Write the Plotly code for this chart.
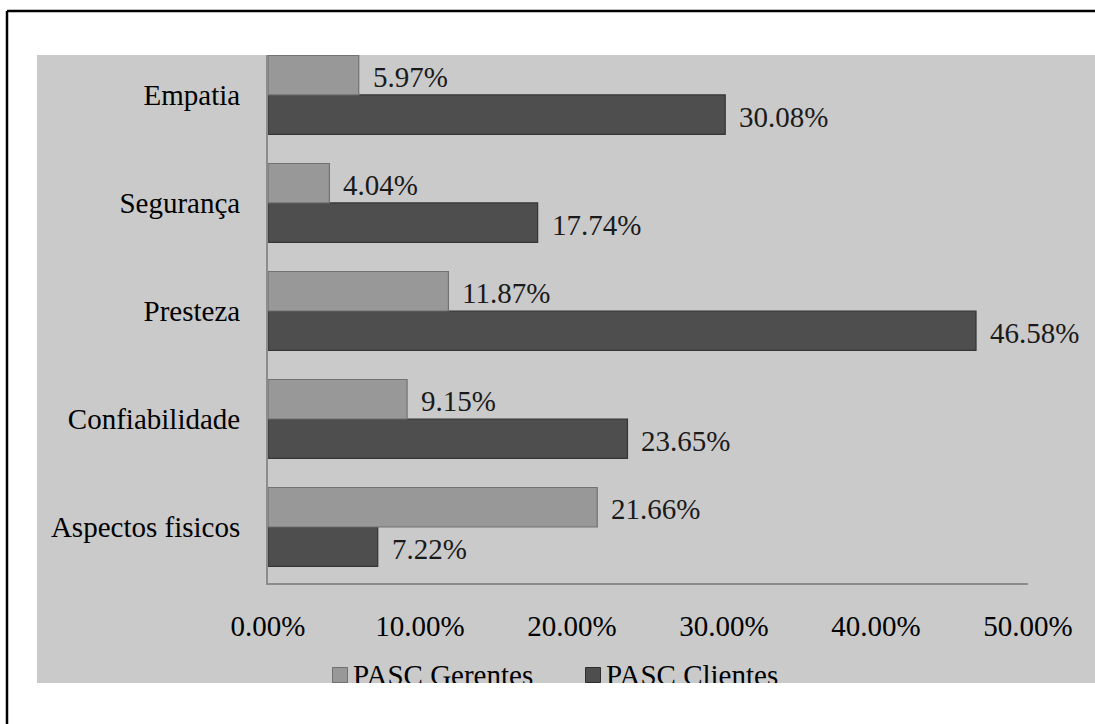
import plotly.graph_objects as go

categories = ["Aspectos fisicos", "Confiabilidade", "Presteza", "Segurança", "Empatia"]
gerentes = [21.66, 9.15, 11.87, 4.04, 5.97]
clientes = [7.22, 23.65, 46.58, 17.74, 30.08]
series_names = ["PASC Gerentes", "PASC Clientes"]
x_ticks = [0, 10, 20, 30, 40, 50]

W, H = 1095, 724
FONT = "Liberation Serif"
FS = 29
GRAY_BG = "#cacaca"
COL_G = "#989898"
COL_C = "#4e4e4e"

# plot area in pixels
PL, PR, PT, PB = 268, 1028, 55, 583

fig = go.Figure()
fig.add_trace(go.Bar(
    y=categories, x=clientes, orientation="h", name=series_names[1],
    marker=dict(color=COL_C, line=dict(color="#353535", width=1.2)),
    showlegend=False, hoverinfo="x+y",
))
fig.add_trace(go.Bar(
    y=categories, x=gerentes, orientation="h", name=series_names[0],
    marker=dict(color=COL_G, line=dict(color="#727272", width=1.2)),
    showlegend=False, hoverinfo="x+y",
))

# data labels
off = 0.183
for i, v in enumerate(gerentes):
    fig.add_annotation(x=v, y=i + off, xref="x", yref="y", text=f"{v:.2f}%",
                       showarrow=False, xanchor="left", xshift=12, yshift=-2,
                       font=dict(family=FONT, size=FS, color="#1a1a1a"))
for i, v in enumerate(clientes):
    fig.add_annotation(x=v, y=i - off, xref="x", yref="y", text=f"{v:.2f}%",
                       showarrow=False, xanchor="left", xshift=12, yshift=-2,
                       font=dict(family=FONT, size=FS, color="#1a1a1a"))

# legend (clipped at bottom of gray area, as in the reference)
LEG_TOP, LEG_BOT = 630, 683
leg_marker_x = [340, 593]
leg_text_x = [353, 606]
leg_y = 677.5
fig.add_trace(go.Scatter(
    x=leg_marker_x, y=[675, 675], xaxis="x2", yaxis="y2", mode="markers",
    marker=dict(symbol="square", size=15, color=[COL_G, COL_C],
                line=dict(color=["#707070", "#2e2e2e"], width=1)),
    showlegend=False, hoverinfo="skip", cliponaxis=True,
))
fig.add_trace(go.Scatter(
    x=leg_text_x, y=[leg_y, leg_y], xaxis="x2", yaxis="y2", mode="text",
    text=series_names, textposition="middle right",
    textfont=dict(family=FONT, size=FS, color="#000000"),
    showlegend=False, hoverinfo="skip", cliponaxis=True,
))

fig.update_layout(
    width=W, height=H,
    margin=dict(l=0, r=0, t=0, b=0),
    paper_bgcolor="white", plot_bgcolor="rgba(0,0,0,0)",
    barmode="group", bargap=0.269, bargroupgap=0,
    font=dict(family=FONT, size=FS, color="#000000"),
    xaxis=dict(
        domain=[PL / W, PR / W], range=[0, 50], tickvals=x_ticks,
        ticktext=[f"{t:.2f}%" for t in x_ticks],
        showgrid=False, zeroline=False, showline=True, linecolor="#8c8c8c",
        linewidth=2, ticks="outside", ticklen=16, tickcolor="rgba(0,0,0,0)",
        tickfont=dict(family=FONT, size=FS, color="#000000"), automargin=False,
        fixedrange=True,
    ),
    yaxis=dict(
        domain=[(H - PB) / H, (H - PT) / H], range=[-0.5185, 4.37],
        type="category", showgrid=False, zeroline=False, showline=True,
        linecolor="#8c8c8c", linewidth=2, ticks="outside", ticklen=20,
        tickcolor="rgba(0,0,0,0)",
        tickfont=dict(family=FONT, size=FS, color="#000000"), automargin=False,
        fixedrange=True,
    ),
    xaxis2=dict(domain=[0, 1], range=[0, W], visible=False, anchor="y2",
                fixedrange=True),
    yaxis2=dict(domain=[(H - LEG_BOT) / H, (H - LEG_TOP) / H],
                range=[LEG_BOT, LEG_TOP], visible=False, anchor="x2",
                fixedrange=True),
    shapes=[
        dict(type="rect", xref="paper", yref="paper", x0=37 / W, x1=1,
             y0=(H - 683) / H, y1=(H - 55) / H, fillcolor=GRAY_BG,
             line=dict(width=0), layer="below"),
        dict(type="line", xref="paper", yref="paper", x0=7 / W, x1=1,
             y0=(H - 11) / H, y1=(H - 11) / H,
             line=dict(color="black", width=2.5)),
        dict(type="line", xref="paper", yref="paper", x0=7 / W, x1=7 / W,
             y0=0, y1=(H - 11) / H, line=dict(color="black", width=2.5)),
    ],
)

fig.write_html("out.html")
